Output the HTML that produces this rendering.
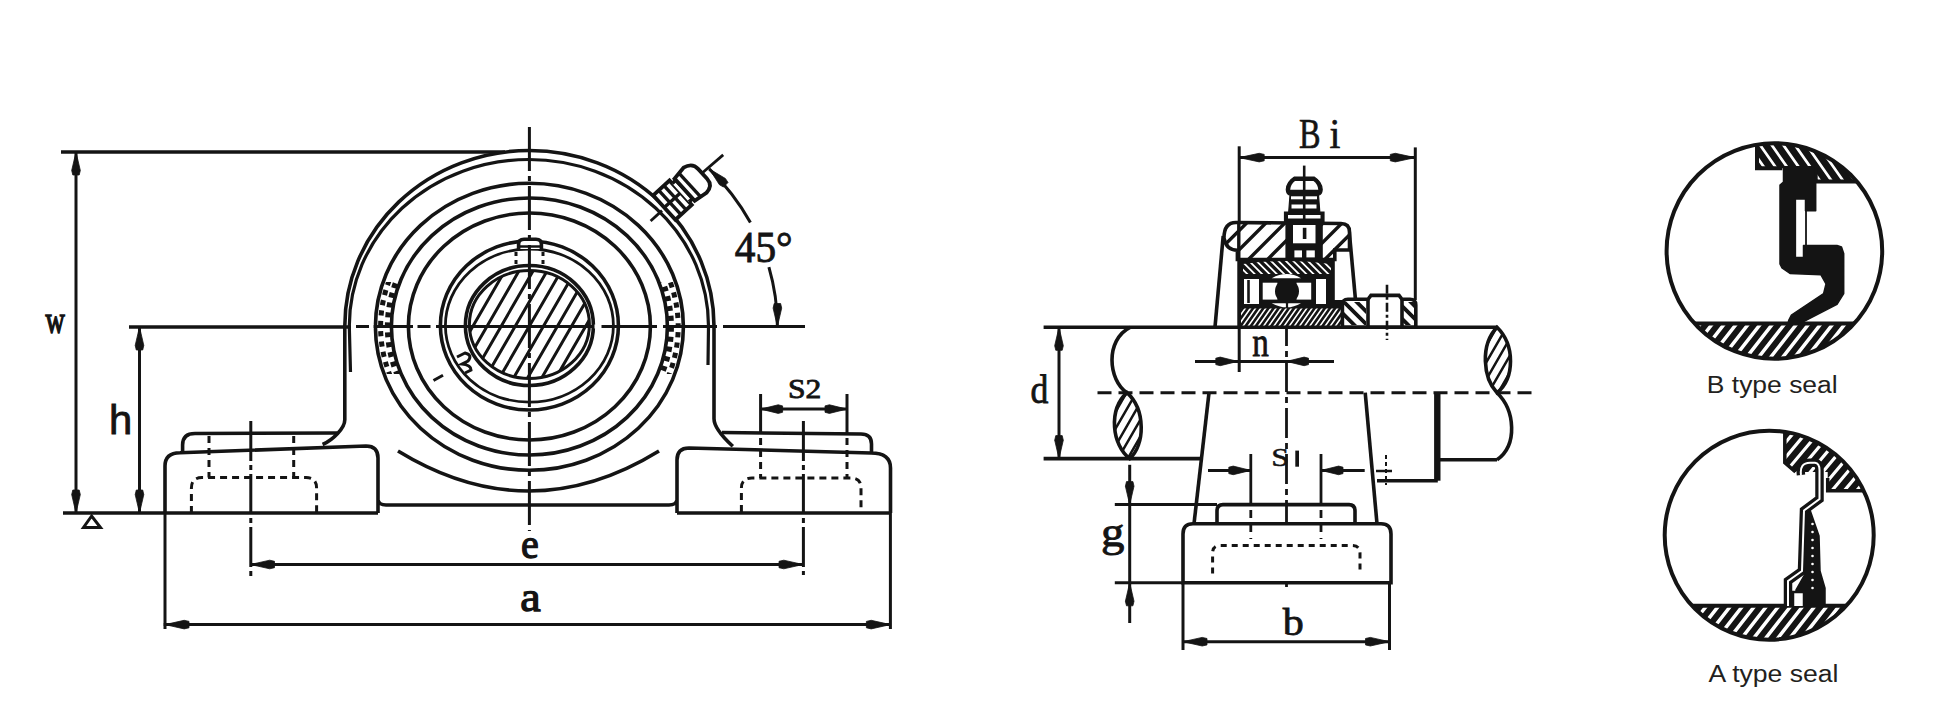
<!DOCTYPE html>
<html><head><meta charset="utf-8"><title>Pillow block bearing drawing</title>
<style>html,body{margin:0;padding:0;background:#fff;}svg{display:block;}</style></head>
<body><svg width="1949" height="709" viewBox="0 0 1949 709"><defs><clipPath id="ringclipL"><rect x="300" y="282" width="100" height="92"/></clipPath><clipPath id="ringclipR"><rect x="660" y="282" width="100" height="92"/></clipPath><clipPath id="shaftclip"><ellipse cx="529.4" cy="324.5" rx="60" ry="54"/></clipPath><clipPath id="brkL"><path d="M1127 392.7 C1108 410 1112 445 1129.7 458.6 C1145 445 1146 410 1127 392.7 Z"/></clipPath><clipPath id="brkR"><path d="M1497 327.3 C1480 345 1483 378 1497 392.7 C1515 378 1515 345 1497 327.3 Z"/></clipPath><clipPath id="capclip"><path d="M1224 238 Q1224 222.5 1236 222.5 L1341 223.5 Q1349.5 223.5 1349.5 232 L1349.5 250 L1334.8 250 L1334.8 259.5 L1237.4 259.5 L1237.4 250.3 Q1226 250 1224 238 Z"/></clipPath><clipPath id="bandclip"><path d="M1243 274 L1243 264 Q1287 258 1331 264 L1331 274 Z"/></clipPath><clipPath id="ringclip"><rect x="1241" y="308.6" width="101" height="17"/></clipPath><clipPath id="colclipL"><rect x="1344" y="302" width="22" height="23"/></clipPath><clipPath id="colclipR"><rect x="1403" y="302" width="11" height="23"/></clipPath><clipPath id="bcirc"><circle cx="1774.4" cy="251" r="107.8"/></clipPath><clipPath id="bbot"><path d="M1660 323.6 L1890 323.6 L1890 370 L1660 370 Z"/></clipPath><clipPath id="btopc"><path d="M1757 130 L1757 168.2 L1782.3 168.2 L1815.7 168.2 L1815.7 181.6 L1890 181.6 L1890 130 Z"/></clipPath><clipPath id="acirc"><circle cx="1769.2" cy="535.2" r="104.5"/></clipPath><clipPath id="abot"><path d="M1660 605.7 L1880 605.7 L1880 650 L1660 650 Z"/></clipPath><clipPath id="atopc"><path d="M1784.8 420 L1784.8 462.6 L1795.5 472 L1827.7 472 L1827.7 490.7 L1880 490.7 L1880 420 Z"/></clipPath></defs><rect width="1949" height="709" fill="#fff"/><line x1="61" y1="152" x2="505" y2="152" stroke="#141414" stroke-width="3.6" stroke-linecap="butt"/>
<line x1="76" y1="152" x2="76" y2="513" stroke="#141414" stroke-width="3.0" stroke-linecap="butt"/>
<polygon points="76,152 80.3,170.4 79.2,175 72.8,175 71.7,170.4" fill="#141414" stroke="#141414" stroke-width="0.8" stroke-linejoin="round"/>
<polygon points="76,513 71.7,494.6 72.8,490 79.2,490 80.3,494.6" fill="#141414" stroke="#141414" stroke-width="0.8" stroke-linejoin="round"/>
<text transform="translate(45.43,333.44) scale(0.2671,0.3863)" font-family="Liberation Serif" font-weight="normal" font-size="100" fill="#141414" stroke="#141414" stroke-width="4">w</text>
<line x1="129" y1="327" x2="351" y2="327" stroke="#141414" stroke-width="3.6" stroke-linecap="butt"/>
<line x1="139.5" y1="327" x2="139.5" y2="513" stroke="#141414" stroke-width="3.0" stroke-linecap="butt"/>
<polygon points="139.5,327 143.8,345.4 142.7,350 136.3,350 135.2,345.4" fill="#141414" stroke="#141414" stroke-width="0.8" stroke-linejoin="round"/>
<polygon points="139.5,513 135.2,494.6 136.3,490 142.7,490 143.8,494.6" fill="#141414" stroke="#141414" stroke-width="0.8" stroke-linejoin="round"/>
<text transform="translate(108.89,433.70) scale(0.4182,0.4122)" font-family="Liberation Sans" font-weight="normal" font-size="100" fill="#141414" stroke="#141414" stroke-width="2">h</text>
<line x1="63" y1="513" x2="378" y2="513" stroke="#141414" stroke-width="3.6" stroke-linecap="butt"/>
<line x1="677" y1="513" x2="890.5" y2="513" stroke="#141414" stroke-width="3.6" stroke-linecap="butt"/>
<polygon points="91.6,516 83.5,527.5 100.5,527.5" fill="none" stroke="#141414" stroke-width="3"/>
<path d="M165 513 L165 466 Q165 453 180 452.8 L366 446 Q378 446 378 458 L378 513 M378 500 Q379 505 386 505 L669 505 Q676 505 677 500 M677 513 L677 460 Q677 448 689 448 L871 453 Q890.5 453 890.5 468 L890.5 513" fill="none" stroke="#141414" stroke-width="3.6" />
<path d="M337 433 L195 433.5 Q182.6 433.5 182.6 445 L182.6 452.5" fill="none" stroke="#141414" stroke-width="3.6" />
<path d="M722 432.5 L861 434 Q871.5 434 871.5 444 L871.5 453" fill="none" stroke="#141414" stroke-width="3.6" />
<path d="M322.6 444.5 C333 440 344.8 428 344.8 419.7 L344.8 326 A184.6 175.5 0 0 1 714 326 L714 418.7 C714 428 726 440 732.8 446.3" fill="none" stroke="#141414" stroke-width="3.6" />
<path d="M350.5 372 L349.3 326 A179.5 166.5 0 0 1 708.5 326 L708 365" fill="none" stroke="#141414" stroke-width="3.2" />
<ellipse cx="529.4" cy="326.8" rx="154" ry="143.5" fill="none" stroke="#141414" stroke-width="3.6" />
<ellipse cx="529.4" cy="326.5" rx="138" ry="128.5" fill="none" stroke="#141414" stroke-width="3.6" />
<ellipse cx="529.4" cy="326.5" rx="121" ry="113.5" fill="none" stroke="#141414" stroke-width="3.6" />
<ellipse cx="529.4" cy="326.8" rx="141.8" ry="132.3" fill="none" stroke="#141414" stroke-width="5.5" stroke-dasharray="5 5" clip-path="url(#ringclipL)"/>
<ellipse cx="529.4" cy="326.8" rx="148.8" ry="138.8" fill="none" stroke="#141414" stroke-width="5" stroke-dasharray="5.2 5.2" stroke-dashoffset="5" clip-path="url(#ringclipL)"/>
<ellipse cx="529.4" cy="326.8" rx="141.8" ry="132.3" fill="none" stroke="#141414" stroke-width="5.5" stroke-dasharray="5 5" clip-path="url(#ringclipR)"/>
<ellipse cx="529.4" cy="326.8" rx="148.8" ry="138.8" fill="none" stroke="#141414" stroke-width="5" stroke-dasharray="5.2 5.2" stroke-dashoffset="5" clip-path="url(#ringclipR)"/>
<path d="M398 451 Q529 531 659 451" fill="none" stroke="#141414" stroke-width="3.6" />
<ellipse cx="529.4" cy="325.5" rx="89" ry="84.5" fill="none" stroke="#141414" stroke-width="3.6" />
<ellipse cx="529.4" cy="325.6" rx="84" ry="76.6" fill="none" stroke="#141414" stroke-width="2.8" />
<ellipse cx="529.4" cy="325.5" rx="64" ry="60" fill="none" stroke="#141414" stroke-width="3.6" />
<path d="M268.8 387.1L453.1 67.7M279.3 393.2L463.7 73.8M289.9 399.3L474.3 79.9M300.5 405.4L484.8 86M311 411.5L495.4 92.1M321.6 417.6L506 98.2M332.1 423.7L516.5 104.3M342.7 429.8L527.1 110.4M353.3 435.9L537.7 116.5M363.8 442L548.2 122.6M374.4 448.1L558.8 128.7M385 454.2L569.4 134.8M395.5 460.3L579.9 140.9M406.1 466.4L590.5 147M416.7 472.5L601.1 153.1M427.2 478.6L611.6 159.2M437.8 484.7L622.2 165.3M448.4 490.8L632.8 171.4M458.9 496.9L643.3 177.5M469.5 503L653.9 183.6M480.1 509.1L664.5 189.7M490.6 515.2L675 195.8M501.2 521.3L685.6 201.9M511.8 527.4L696.2 208M522.3 533.5L706.7 214.1M532.9 539.6L717.3 220.2M543.5 545.7L727.9 226.3M554 551.8L738.4 232.4M564.6 557.9L749 238.5M575.2 564L759.5 244.6M585.7 570.1L770.1 250.7M596.3 576.2L780.7 256.8M606.9 582.3L791.2 262.9" stroke="#141414" stroke-width="3.0" clip-path="url(#shaftclip)"/>
<ellipse cx="529.4" cy="324.5" rx="60" ry="54" fill="none" stroke="#141414" stroke-width="3.0" />
<path d="M518.6 249 L518.6 244 Q518.6 239.3 524 239.3 L536 239.3 Q541.4 239.3 541.4 244 L541.4 249" fill="#fff" stroke="#141414" stroke-width="3.6" />
<line x1="518.6" y1="246.5" x2="541.4" y2="246.5" stroke="#141414" stroke-width="2.5" stroke-linecap="butt"/>
<line x1="516" y1="252" x2="516" y2="266" stroke="#141414" stroke-width="3" stroke-dasharray="4 4" stroke-linecap="butt"/>
<line x1="543" y1="252" x2="543" y2="266" stroke="#141414" stroke-width="3" stroke-dasharray="4 4" stroke-linecap="butt"/>
<path d="M433.5 380.5 L443 375.2" fill="none" stroke="#141414" stroke-width="3" />
<path d="M457 357 L465 353 Q473 355 468 361 L462 364 Q471 365 471 370 L465 373" fill="none" stroke="#141414" stroke-width="3" />
<line x1="529.4" y1="127" x2="529.4" y2="531" stroke="#141414" stroke-width="3.0" stroke-dasharray="44 5 5 5" stroke-linecap="butt"/>
<line x1="351" y1="326.5" x2="805" y2="326.5" stroke="#141414" stroke-width="3.0" stroke-linecap="butt"/>
<line x1="351" y1="326.5" x2="356" y2="326.5" stroke="#fff" stroke-width="4" stroke-linecap="butt"/>
<line x1="369" y1="326.5" x2="373.5" y2="326.5" stroke="#fff" stroke-width="4" stroke-linecap="butt"/>
<line x1="413" y1="326.5" x2="417.5" y2="326.5" stroke="#fff" stroke-width="4" stroke-linecap="butt"/>
<line x1="430.5" y1="326.5" x2="436" y2="326.5" stroke="#fff" stroke-width="4" stroke-linecap="butt"/>
<line x1="594.5" y1="326.5" x2="601.5" y2="326.5" stroke="#fff" stroke-width="4" stroke-linecap="butt"/>
<line x1="657" y1="326.5" x2="663" y2="326.5" stroke="#fff" stroke-width="4" stroke-linecap="butt"/>
<line x1="717" y1="326.5" x2="723" y2="326.5" stroke="#fff" stroke-width="4" stroke-linecap="butt"/>
<line x1="250.8" y1="421" x2="250.8" y2="578.7" stroke="#141414" stroke-width="3.0" stroke-dasharray="40 4 5 4" stroke-linecap="butt"/>
<line x1="803.4" y1="421" x2="803.4" y2="575" stroke="#141414" stroke-width="3.0" stroke-dasharray="40 4 5 4" stroke-linecap="butt"/>
<path d="M191.4 513 L191.4 488 Q191.4 477.6 202 477.6 L306 477.6 Q316.6 477.6 316.6 488 L316.6 513" fill="none" stroke="#141414" stroke-width="3.0" stroke-dasharray="7 5"/>
<path d="M741.4 512 L741.4 488 Q741.4 478 752 478 L851 478 Q861 478 861 488 L861 512" fill="none" stroke="#141414" stroke-width="3.0" stroke-dasharray="7 5"/>
<line x1="209" y1="436" x2="209" y2="477.6" stroke="#141414" stroke-width="3" stroke-dasharray="7 5" stroke-linecap="butt"/>
<line x1="293.7" y1="436" x2="293.7" y2="477.6" stroke="#141414" stroke-width="3" stroke-dasharray="7 5" stroke-linecap="butt"/>
<line x1="760.6" y1="394" x2="760.6" y2="434" stroke="#141414" stroke-width="3.0" stroke-linecap="butt"/>
<line x1="847" y1="394" x2="847" y2="434" stroke="#141414" stroke-width="3.0" stroke-linecap="butt"/>
<line x1="760.6" y1="438" x2="760.6" y2="478" stroke="#141414" stroke-width="3" stroke-dasharray="7 5" stroke-linecap="butt"/>
<line x1="847" y1="438" x2="847" y2="478" stroke="#141414" stroke-width="3" stroke-dasharray="7 5" stroke-linecap="butt"/>
<line x1="760.6" y1="409.1" x2="847" y2="409.1" stroke="#141414" stroke-width="3.0" stroke-linecap="butt"/>
<polygon points="760.6,409.1 778.2,404.8 782.6,405.9 782.6,412.3 778.2,413.4" fill="#141414" stroke="#141414" stroke-width="0.8" stroke-linejoin="round"/>
<polygon points="847,409.1 829.4,413.4 825,412.3 825,405.9 829.4,404.8" fill="#141414" stroke="#141414" stroke-width="0.8" stroke-linejoin="round"/>
<text transform="translate(787.92,397.80) scale(0.3156,0.2657)" font-family="Liberation Serif" font-weight="normal" font-size="100" fill="#141414" stroke="#141414" stroke-width="3">S2</text>
<line x1="250.5" y1="564.5" x2="803" y2="564.5" stroke="#141414" stroke-width="3.0" stroke-linecap="butt"/>
<polygon points="250.5,564.5 269.7,560.2 274.5,561.3 274.5,567.7 269.7,568.8" fill="#141414" stroke="#141414" stroke-width="0.8" stroke-linejoin="round"/>
<polygon points="803,564.5 783.8,568.8 779,567.7 779,561.3 783.8,560.2" fill="#141414" stroke="#141414" stroke-width="0.8" stroke-linejoin="round"/>
<text transform="translate(521.00,557.55) scale(0.4000,0.4240)" font-family="Liberation Serif" font-weight="normal" font-size="100" fill="#141414" stroke="#141414" stroke-width="3">e</text>
<line x1="163.7" y1="624.6" x2="890.4" y2="624.6" stroke="#141414" stroke-width="3.0" stroke-linecap="butt"/>
<line x1="165" y1="513" x2="165" y2="629" stroke="#141414" stroke-width="3.0" stroke-linecap="butt"/>
<line x1="890.4" y1="513" x2="890.4" y2="629" stroke="#141414" stroke-width="3.0" stroke-linecap="butt"/>
<polygon points="165,624.6 184.2,620.3 189,621.4 189,627.8 184.2,628.9" fill="#141414" stroke="#141414" stroke-width="0.8" stroke-linejoin="round"/>
<polygon points="890.4,624.6 871.2,628.9 866.4,627.8 866.4,621.4 871.2,620.3" fill="#141414" stroke="#141414" stroke-width="0.8" stroke-linejoin="round"/>
<text transform="translate(520.28,610.55) scale(0.4605,0.4240)" font-family="Liberation Serif" font-weight="normal" font-size="100" fill="#141414" stroke="#141414" stroke-width="3">a</text>
<line x1="650.6" y1="221" x2="662" y2="210.6" stroke="#141414" stroke-width="2.8"/>
<line x1="701" y1="174" x2="723.2" y2="154.9" stroke="#141414" stroke-width="2.8"/>
<g transform="translate(662.5,208.5) rotate(-42.32)"><path d="M2 -16 L24 -16 L24 17 L2 17 Z" fill="#fff" stroke="#141414" stroke-width="3.8"/><line x1="9.5" y1="-16" x2="9.5" y2="17" stroke="#141414" stroke-width="3.4"/><line x1="16.5" y1="-16" x2="16.5" y2="17" stroke="#141414" stroke-width="3.4"/><line x1="2" y1="0.5" x2="24" y2="0.5" stroke="#141414" stroke-width="3.4"/><path d="M24 -12 L29 -12 L29 13 L24 13" fill="#fff" stroke="#141414" stroke-width="3.6"/><path d="M29 -14 L43 -16 Q53 -14 53 -5 L53 8 Q53 17 43 18 L29 16 Z" fill="#fff" stroke="#141414" stroke-width="3.8"/><line x1="36" y1="-14.5" x2="36" y2="16.5" stroke="#141414" stroke-width="3.4"/></g>
<path d="M709.2 168.8 A248 229 0 0 1 750.4 222.5" fill="none" stroke="#141414" stroke-width="3.0" />
<path d="M768.9 267.2 A248 229 0 0 1 777.4 326.5" fill="none" stroke="#141414" stroke-width="3.0" />
<polygon points="709.2,168.8 725.4,178.5 728,182.5 723.5,187.1 719.4,184.7" fill="#141414" stroke="#141414" stroke-width="0.8" stroke-linejoin="round"/>
<polygon points="777.4,326.5 773.1,308.1 774.2,303.5 780.6,303.5 781.7,308.1" fill="#141414" stroke="#141414" stroke-width="0.8" stroke-linejoin="round"/>
<text transform="translate(734.79,261.62) scale(0.4133,0.4391)" font-family="Liberation Serif" font-weight="normal" font-size="100" fill="#141414" stroke="#141414" stroke-width="2">45°</text>
<line x1="1239.2" y1="157.6" x2="1415.3" y2="157.6" stroke="#141414" stroke-width="3.0" stroke-linecap="butt"/>
<line x1="1239.2" y1="146.3" x2="1239.2" y2="372" stroke="#141414" stroke-width="3.0" stroke-linecap="butt"/>
<line x1="1415.3" y1="147.4" x2="1415.3" y2="300" stroke="#141414" stroke-width="3.0" stroke-linecap="butt"/>
<polygon points="1239.2,157.6 1259.2,153.3 1264.2,154.4 1264.2,160.8 1259.2,161.9" fill="#141414" stroke="#141414" stroke-width="0.8" stroke-linejoin="round"/>
<polygon points="1415.3,157.6 1395.3,161.9 1390.3,160.8 1390.3,154.4 1395.3,153.3" fill="#141414" stroke="#141414" stroke-width="0.8" stroke-linejoin="round"/>
<text transform="translate(1298.95,148.09) scale(0.3230,0.4119)" font-family="Liberation Serif" font-weight="normal" font-size="100" fill="#141414" stroke="#141414" stroke-width="1.5">B</text>
<text transform="translate(1329.61,148.08) scale(0.3923,0.4209)" font-family="Liberation Serif" font-weight="normal" font-size="100" fill="#141414" stroke="#141414" stroke-width="1.5">i</text>
<line x1="1043.6" y1="327.3" x2="1497" y2="327.3" stroke="#141414" stroke-width="3.6" stroke-linecap="butt"/>
<line x1="1043.6" y1="458.6" x2="1200" y2="458.6" stroke="#141414" stroke-width="3.6" stroke-linecap="butt"/>
<line x1="1440" y1="459.8" x2="1497" y2="459.8" stroke="#141414" stroke-width="3.6" stroke-linecap="butt"/>
<path d="M1130 327.3 C1105 340 1108 380 1127 392.7" fill="none" stroke="#141414" stroke-width="3.6" />
<path d="M1012.3 454.6L1095.5 310.4M1019.6 458.8L1102.9 314.7M1027 463.1L1110.2 318.9M1034.4 467.3L1117.6 323.2M1041.7 471.6L1124.9 327.4M1049.1 475.8L1132.3 331.7M1056.4 480.1L1139.7 335.9M1063.8 484.3L1147 340.2M1071.2 488.6L1154.4 344.4M1078.5 492.8L1161.7 348.7M1085.9 497.1L1169.1 352.9M1093.3 501.3L1176.5 357.2M1100.6 505.6L1183.8 361.4M1108 509.8L1191.2 365.7M1115.3 514.1L1198.6 369.9M1122.7 518.3L1205.9 374.2M1130.1 522.6L1213.3 378.4M1137.4 526.8L1220.6 382.7M1144.8 531.1L1228 386.9M1152.1 535.3L1235.4 391.2M1159.5 539.6L1242.7 395.4" stroke="#141414" stroke-width="2.5" clip-path="url(#brkL)"/>
<path d="M1127 392.7 C1108 410 1112 445 1129.7 458.6 C1145 445 1146 410 1127 392.7 Z" fill="none" stroke="#141414" stroke-width="3.6" />
<path d="M1382.3 389.6L1465.5 245.4M1389.6 393.8L1472.9 249.7M1397 398.1L1480.2 253.9M1404.4 402.3L1487.6 258.2M1411.7 406.6L1494.9 262.4M1419.1 410.8L1502.3 266.7M1426.4 415.1L1509.7 270.9M1433.8 419.3L1517 275.2M1441.2 423.6L1524.4 279.4M1448.5 427.8L1531.7 283.7M1455.9 432.1L1539.1 287.9M1463.3 436.3L1546.5 292.2M1470.6 440.6L1553.8 296.4M1478 444.8L1561.2 300.7M1485.3 449.1L1568.6 304.9M1492.7 453.3L1575.9 309.2M1500.1 457.6L1583.3 313.4M1507.4 461.8L1590.6 317.7M1514.8 466.1L1598 321.9M1522.1 470.3L1605.4 326.2M1529.5 474.6L1612.7 330.4" stroke="#141414" stroke-width="2.5" clip-path="url(#brkR)"/>
<path d="M1497 327.3 C1480 345 1483 378 1497 392.7 C1515 378 1515 345 1497 327.3 Z" fill="none" stroke="#141414" stroke-width="3.6" />
<path d="M1497 392.7 C1515 410 1518 445 1497 459.8" fill="none" stroke="#141414" stroke-width="3.6" />
<line x1="1097.5" y1="392.7" x2="1537.7" y2="392.7" stroke="#141414" stroke-width="3.0" stroke-dasharray="14 7" stroke-linecap="butt"/>
<line x1="1286.5" y1="270" x2="1286.5" y2="590.5" stroke="#141414" stroke-width="2.8" stroke-dasharray="30 5 6 5" stroke-linecap="butt"/>
<line x1="1059" y1="327.3" x2="1059" y2="458.6" stroke="#141414" stroke-width="3.0" stroke-linecap="butt"/>
<polygon points="1059,327.3 1063.3,345.7 1062.2,350.3 1055.8,350.3 1054.7,345.7" fill="#141414" stroke="#141414" stroke-width="0.8" stroke-linejoin="round"/>
<polygon points="1059,458.6 1054.7,440.2 1055.8,435.6 1062.2,435.6 1063.3,440.2" fill="#141414" stroke="#141414" stroke-width="0.8" stroke-linejoin="round"/>
<text transform="translate(1030.53,402.70) scale(0.3574,0.4000)" font-family="Liberation Serif" font-weight="normal" font-size="100" fill="#141414" stroke="#141414" stroke-width="2">d</text>
<line x1="1195" y1="361.4" x2="1334" y2="361.4" stroke="#141414" stroke-width="3.0" stroke-linecap="butt"/>
<polygon points="1237.8,361.4 1220.2,365.7 1215.8,364.6 1215.8,358.2 1220.2,357.1" fill="#141414" stroke="#141414" stroke-width="0.8" stroke-linejoin="round"/>
<polygon points="1286.5,361.4 1304.1,357.1 1308.5,358.2 1308.5,364.6 1304.1,365.7" fill="#141414" stroke="#141414" stroke-width="0.8" stroke-linejoin="round"/>
<text transform="translate(1252.37,356.27) scale(0.3312,0.4306)" font-family="Liberation Serif" font-weight="normal" font-size="100" fill="#141414" stroke="#141414" stroke-width="2">n</text>
<line x1="1209" y1="392.7" x2="1194" y2="523.8" stroke="#141414" stroke-width="3.6" stroke-linecap="butt"/>
<line x1="1365.2" y1="392.7" x2="1377" y2="523.8" stroke="#141414" stroke-width="3.6" stroke-linecap="butt"/>
<path d="M1183 582.8 L1183 534 Q1183 523.8 1193 523.8 L1381 523.8 Q1391 523.8 1391 534 L1391 582.8 Z" fill="#fff" stroke="#141414" stroke-width="3.6" />
<path d="M1217 523.8 L1217 511 Q1217 504.6 1223 504.6 L1349 504.6 Q1355 504.6 1355 511 L1355 523.8" fill="none" stroke="#141414" stroke-width="3.6" />
<line x1="1114.8" y1="504.6" x2="1217" y2="504.6" stroke="#141414" stroke-width="3.0" stroke-linecap="butt"/>
<line x1="1114.8" y1="582.8" x2="1183" y2="582.8" stroke="#141414" stroke-width="3.0" stroke-linecap="butt"/>
<path d="M1212.6 573.5 L1212.6 553 Q1212.6 545.5 1220 545.5 L1352 545.5 Q1360 545.5 1360 553 L1360 573.5" fill="none" stroke="#141414" stroke-width="3.0" stroke-dasharray="6 5"/>
<line x1="1250.8" y1="454" x2="1250.8" y2="505" stroke="#141414" stroke-width="2.8" stroke-linecap="butt"/>
<line x1="1321" y1="454" x2="1321" y2="505" stroke="#141414" stroke-width="2.8" stroke-linecap="butt"/>
<line x1="1250.8" y1="510" x2="1250.8" y2="539" stroke="#141414" stroke-width="2.8" stroke-dasharray="8 6" stroke-linecap="butt"/>
<line x1="1321" y1="510" x2="1321" y2="539" stroke="#141414" stroke-width="2.8" stroke-dasharray="8 6" stroke-linecap="butt"/>
<line x1="1208" y1="470.4" x2="1250.8" y2="470.4" stroke="#141414" stroke-width="3.0" stroke-linecap="butt"/>
<polygon points="1250.8,470.4 1233.2,474.7 1228.8,473.6 1228.8,467.2 1233.2,466.1" fill="#141414" stroke="#141414" stroke-width="0.8" stroke-linejoin="round"/>
<line x1="1321" y1="470.4" x2="1364.7" y2="470.4" stroke="#141414" stroke-width="3.0" stroke-linecap="butt"/>
<polygon points="1321,470.4 1338.6,466.1 1343,467.2 1343,473.6 1338.6,474.7" fill="#141414" stroke="#141414" stroke-width="0.8" stroke-linejoin="round"/>
<text transform="translate(1271.18,465.91) scale(0.3205,0.2623)" font-family="Liberation Serif" font-weight="normal" font-size="100" fill="#141414" stroke="#141414" stroke-width="2">S</text>
<path d="M1295.3 450.6 L1299 450.6 L1299 466.7 L1295.3 466.7 Z" fill="#141414" stroke="none" stroke-width="0" />
<line x1="1129.7" y1="464.8" x2="1129.7" y2="623" stroke="#141414" stroke-width="3.0" stroke-linecap="butt"/>
<polygon points="1129.7,504.6 1125.4,486.2 1126.5,481.6 1132.9,481.6 1134,486.2" fill="#141414" stroke="#141414" stroke-width="0.8" stroke-linejoin="round"/>
<polygon points="1129.7,582.8 1134,601.2 1132.9,605.8 1126.5,605.8 1125.4,601.2" fill="#141414" stroke="#141414" stroke-width="0.8" stroke-linejoin="round"/>
<text transform="translate(1100.99,545.71) scale(0.4696,0.4133)" font-family="Liberation Serif" font-weight="normal" font-size="100" fill="#141414" stroke="#141414" stroke-width="2">g</text>
<line x1="1183" y1="582.8" x2="1183" y2="650" stroke="#141414" stroke-width="3.0" stroke-linecap="butt"/>
<line x1="1389.5" y1="582.8" x2="1389.5" y2="650" stroke="#141414" stroke-width="3.0" stroke-linecap="butt"/>
<line x1="1183" y1="641.7" x2="1389.5" y2="641.7" stroke="#141414" stroke-width="3.0" stroke-linecap="butt"/>
<polygon points="1183,641.7 1202.2,637.4 1207,638.5 1207,644.9 1202.2,646" fill="#141414" stroke="#141414" stroke-width="0.8" stroke-linejoin="round"/>
<polygon points="1389.5,641.7 1370.3,646 1365.5,644.9 1365.5,638.5 1370.3,637.4" fill="#141414" stroke="#141414" stroke-width="0.8" stroke-linejoin="round"/>
<text transform="translate(1282.82,634.73) scale(0.4208,0.3875)" font-family="Liberation Serif" font-weight="normal" font-size="100" fill="#141414" stroke="#141414" stroke-width="2">b</text>
<path d="M1436 392.7 L1436 480.7 L1377 480.7" fill="none" stroke="#141414" stroke-width="3.6" />
<line x1="1437.5" y1="392.7" x2="1437.5" y2="480.7" stroke="#141414" stroke-width="6" stroke-linecap="butt"/>
<line x1="1376" y1="471" x2="1392" y2="471" stroke="#141414" stroke-width="2.5" stroke-linecap="butt"/>
<line x1="1386" y1="455" x2="1386" y2="485" stroke="#141414" stroke-width="2" stroke-dasharray="4 3" stroke-linecap="butt"/>
<line x1="1223.2" y1="236" x2="1215" y2="327" stroke="#141414" stroke-width="3.6" stroke-linecap="butt"/>
<line x1="1349.3" y1="232" x2="1355.5" y2="300" stroke="#141414" stroke-width="3.6" stroke-linecap="butt"/>
<path d="M1237.4 258 L1334.8 258 L1334.8 300 L1342.4 300 L1342.4 329 L1237.4 329 Z" fill="#141414" stroke="none" stroke-width="0" />
<path d="M1224 238 Q1224 222.5 1236 222.5 L1341 223.5 Q1349.5 223.5 1349.5 232 L1349.5 250 L1334.8 250 L1334.8 259.5 L1237.4 259.5 L1237.4 250.3 Q1226 250 1224 238 Z" fill="#fff" stroke="none" stroke-width="0" />
<path d="M1083 233.9L1278.9 38M1092.6 243.5L1288.5 47.6M1102.1 253L1298 57.1M1111.7 262.6L1307.6 66.7M1121.2 272.1L1317.1 76.2M1130.8 281.7L1326.7 85.8M1140.3 291.2L1336.2 95.3M1149.9 300.8L1345.8 104.9M1159.4 310.3L1355.3 114.4M1169 319.9L1364.9 124M1178.5 329.4L1374.4 133.5M1188.1 338.9L1383.9 143.1M1197.6 348.5L1393.5 152.6M1207.1 358L1403 162.1M1216.7 367.6L1412.6 171.7M1226.2 377.1L1422.1 181.2M1235.8 386.7L1431.7 190.8M1245.3 396.2L1441.2 200.3M1254.9 405.8L1450.8 209.9M1264.4 415.3L1460.3 219.4M1274 424.9L1469.9 229M1283.5 434.4L1479.4 238.5M1293.1 444L1489 248.1" stroke="#141414" stroke-width="3.4" clip-path="url(#capclip)"/>
<path d="M1224 238 Q1224 222.5 1236 222.5 L1341 223.5 Q1349.5 223.5 1349.5 232 L1349.5 250 L1334.8 250 L1334.8 259.5 L1237.4 259.5 L1237.4 250.3 Q1226 250 1224 238 Z" fill="none" stroke="#141414" stroke-width="3.6" />
<line x1="1238.8" y1="222" x2="1238.8" y2="260" stroke="#141414" stroke-width="3.4" stroke-linecap="butt"/>
<path d="M1285.4 222 L1322.8 222 L1322.8 259 L1285.4 259 Z" fill="#141414" stroke="none" stroke-width="0" />
<path d="M1293 225 L1315.5 225 L1315.5 243.3 L1293 243.3 Z" fill="#fff" stroke="none" stroke-width="0" />
<line x1="1304.6" y1="227.8" x2="1304.6" y2="239" stroke="#141414" stroke-width="3.6" stroke-linecap="butt"/>
<path d="M1294.4 250.4 L1302 250.4 L1302 257.4 L1294.4 257.4 Z" fill="#fff" stroke="none" stroke-width="0" />
<path d="M1306.4 250.4 L1314.8 250.4 L1314.8 257.4 L1306.4 257.4 Z" fill="#fff" stroke="none" stroke-width="0" />
<path d="M1285.3 407.6L1146.9 269.2M1289 403.9L1150.6 265.5M1292.7 400.2L1154.3 261.8M1296.4 396.5L1158 258.1M1300 392.9L1161.6 254.5M1303.7 389.2L1165.3 250.8M1307.4 385.5L1169 247.1M1311.1 381.8L1172.7 243.4M1314.8 378.1L1176.4 239.7M1318.4 374.5L1180 236.1M1322.1 370.8L1183.7 232.4M1325.8 367.1L1187.4 228.7M1329.5 363.4L1191.1 225M1333.1 359.8L1194.7 221.4M1336.8 356.1L1198.4 217.7M1340.5 352.4L1202.1 214M1344.2 348.7L1205.8 210.3M1347.8 345.1L1209.4 206.7M1351.5 341.4L1213.1 203M1355.2 337.7L1216.8 199.3M1358.9 334L1220.5 195.6M1362.6 330.3L1224.2 191.9M1366.2 326.7L1227.8 188.3M1369.9 323L1231.5 184.6M1373.6 319.3L1235.2 180.9M1377.3 315.6L1238.9 177.2M1380.9 312L1242.5 173.6M1384.6 308.3L1246.2 169.9M1388.3 304.6L1249.9 166.2M1392 300.9L1253.6 162.5M1395.6 297.3L1257.2 158.9M1399.3 293.6L1260.9 155.2M1403 289.9L1264.6 151.5M1406.7 286.2L1268.3 147.8M1410.4 282.5L1272 144.1M1414 278.9L1275.6 140.5M1417.7 275.2L1279.3 136.8M1421.4 271.5L1283 133.1M1425.1 267.8L1286.7 129.4" stroke="#fff" stroke-width="1.8" clip-path="url(#bandclip)"/>
<path d="M1244 279 L1259 279 L1259 304 L1244 304 Z" fill="#fff" stroke="none" stroke-width="0" />
<line x1="1248.5" y1="280" x2="1248.5" y2="303" stroke="#141414" stroke-width="2.6" stroke-linecap="butt"/>
<path d="M1316 279 L1326 279 L1326 304 L1316 304 Z" fill="#fff" stroke="none" stroke-width="0" />
<path d="M1271.7 278.2 Q1287 270 1301 278.2 Z" fill="#fff" stroke="none" stroke-width="0" />
<path d="M1271.7 303.2 Q1287 311.5 1301 303.2 Z" fill="#fff" stroke="none" stroke-width="0" />
<path d="M1262.7 282.7 L1277.4 282.7 L1277.4 299.6 L1262.7 299.6 Z" fill="#fff" stroke="none" stroke-width="0" />
<path d="M1296.5 282.7 L1311.2 282.7 L1311.2 299.6 L1296.5 299.6 Z" fill="#fff" stroke="none" stroke-width="0" />
<ellipse cx="1287" cy="291.3" rx="12" ry="12" fill="#141414" stroke="#141414" stroke-width="0" />
<line x1="1287" y1="303" x2="1287" y2="310" stroke="#141414" stroke-width="2.2" stroke-linecap="butt"/>
<path d="M1141.5 339.3L1262.6 166.4M1145 341.7L1266 168.8M1148.4 344.1L1269.5 171.2M1151.8 346.5L1272.9 173.6M1155.3 349L1276.3 176.1M1158.7 351.4L1279.8 178.5M1162.2 353.8L1283.2 180.9M1165.6 356.2L1286.7 183.3M1169 358.6L1290.1 185.7M1172.5 361L1293.5 188.1M1175.9 363.4L1297 190.5M1179.4 365.8L1300.4 192.9M1182.8 368.2L1303.9 195.3M1186.2 370.6L1307.3 197.7M1189.7 373L1310.7 200.1M1193.1 375.5L1314.2 202.6M1196.6 377.9L1317.6 205M1200 380.3L1321.1 207.4M1203.4 382.7L1324.5 209.8M1206.9 385.1L1328 212.2M1210.3 387.5L1331.4 214.6M1213.8 389.9L1334.8 217M1217.2 392.3L1338.3 219.4M1220.6 394.7L1341.7 221.8M1224.1 397.1L1345.2 224.2M1227.5 399.5L1348.6 226.6M1231 402L1352 229M1234.4 404.4L1355.5 231.5M1237.8 406.8L1358.9 233.9M1241.3 409.2L1362.4 236.3M1244.7 411.6L1365.8 238.7M1248.2 414L1369.2 241.1M1251.6 416.4L1372.7 243.5M1255 418.8L1376.1 245.9M1258.5 421.2L1379.6 248.3M1261.9 423.6L1383 250.7M1265.4 426L1386.4 253.1M1268.8 428.4L1389.9 255.5M1272.3 430.9L1393.3 258M1275.7 433.3L1396.8 260.4M1279.1 435.7L1400.2 262.8M1282.6 438.1L1403.6 265.2M1286 440.5L1407.1 267.6M1289.5 442.9L1410.5 270M1292.9 445.3L1414 272.4M1296.3 447.7L1417.4 274.8M1299.8 450.1L1420.8 277.2M1303.2 452.5L1424.3 279.6M1306.7 454.9L1427.7 282M1310.1 457.4L1431.2 284.5M1313.5 459.8L1434.6 286.9M1317 462.2L1438 289.3M1320.4 464.6L1441.5 291.7" stroke="#fff" stroke-width="1.6" clip-path="url(#ringclip)"/>
<path d="M1342.4 327 L1342.4 305 Q1342.4 299.3 1348 299.3 L1368 299.3 L1371 295.4 L1399 295.4 L1402 299.3 L1410 299.3 Q1415.8 299.3 1415.8 305 L1415.8 327 Z" fill="#fff" stroke="#141414" stroke-width="3.6" />
<path d="M1350.2 371.8L1296.2 317.8M1356.6 365.5L1302.5 311.4M1362.9 359.1L1308.9 305.1M1369.3 352.7L1315.3 298.7M1375.7 346.4L1321.6 292.3M1382 340L1328 286M1388.4 333.7L1334.3 279.6M1394.7 327.3L1340.7 273.3M1401.1 320.9L1347.1 266.9M1407.5 314.6L1353.4 260.5M1413.8 308.2L1359.8 254.2" stroke="#141414" stroke-width="3.8" clip-path="url(#colclipL)"/>
<path d="M1405.7 360.6L1361.4 316.3M1412 354.2L1367.8 310M1418.4 347.9L1374.1 303.6M1424.8 341.5L1380.5 297.2M1431.1 335.1L1386.9 290.9M1437.5 328.8L1393.2 284.5M1443.9 322.4L1399.6 278.1M1450.2 316L1406 271.8M1456.6 309.7L1412.3 265.4" stroke="#141414" stroke-width="3.8" clip-path="url(#colclipR)"/>
<line x1="1368" y1="299.3" x2="1368" y2="327" stroke="#141414" stroke-width="3.6" stroke-linecap="butt"/>
<line x1="1402" y1="299.3" x2="1402" y2="327" stroke="#141414" stroke-width="3.6" stroke-linecap="butt"/>
<line x1="1387" y1="284.7" x2="1387" y2="340" stroke="#141414" stroke-width="2.6" stroke-dasharray="9 3 3 3" stroke-linecap="butt"/>
<path d="M1294.4 177 L1314.1 177 Q1322 182 1322.2 189.6 Q1322 194 1318.5 195.3 L1319.8 212 L1324 212 L1324 222 L1284.5 222 L1284.5 212 L1288.7 212 L1290 195.3 Q1286.5 194 1286.3 189.6 Q1286.5 182 1294.4 177 Z" fill="#141414" stroke="#141414" stroke-width="1.2" />
<path d="M1295 181 L1313.5 181 Q1318 184.5 1318.3 189.8 L1290.2 189.8 Q1290.5 184.5 1295 181 Z" fill="#fff" stroke="none" stroke-width="0" />
<path d="M1291 196.3 L1317 196.3 L1317 199.3 L1291 199.3 Z" fill="#fff" stroke="none" stroke-width="0" />
<path d="M1291.5 204.5 L1316.5 204.5 L1316.5 208.5 L1291.5 208.5 Z" fill="#fff" stroke="none" stroke-width="0" />
<path d="M1288 215 L1320.5 215 L1320.5 218.6 L1288 218.6 Z" fill="#fff" stroke="none" stroke-width="0" />
<line x1="1304.2" y1="165.6" x2="1304.2" y2="220" stroke="#141414" stroke-width="2.6" stroke-linecap="butt"/>
<g clip-path="url(#bcirc)">
<path d="M1700 323.6 L1900 323.6 L1900 400 L1700 400 Z" fill="#fff" stroke="none" stroke-width="0" />
<path d="M1443.9 382L1731.8 13.5M1451.4 387.9L1739.3 19.4M1458.9 393.7L1746.8 25.2M1466.4 399.6L1754.2 31.1M1473.8 405.4L1761.7 36.9M1481.3 411.3L1769.2 42.8M1488.8 417.1L1776.7 48.6M1496.3 423L1784.2 54.5M1503.8 428.8L1791.7 60.3M1511.3 434.7L1799.2 66.2M1518.8 440.5L1806.7 72M1526.3 446.4L1814.1 77.9M1533.7 452.2L1821.6 83.7M1541.2 458.1L1829.1 89.6M1548.7 463.9L1836.6 95.4M1556.2 469.8L1844.1 101.3M1563.7 475.6L1851.6 107.1M1571.2 481.4L1859.1 113M1578.7 487.3L1866.5 118.8M1586.1 493.1L1874 124.7M1593.6 499L1881.5 130.5M1601.1 504.8L1889 136.4M1608.6 510.7L1896.5 142.2M1616.1 516.5L1904 148.1M1623.6 522.4L1911.5 153.9M1631.1 528.2L1918.9 159.8M1638.5 534.1L1926.4 165.6M1646 539.9L1933.9 171.5M1653.5 545.8L1941.4 177.3M1661 551.6L1948.9 183.2M1668.5 557.5L1956.4 189M1676 563.3L1963.9 194.9M1683.5 569.2L1971.3 200.7M1690.9 575L1978.8 206.6M1698.4 580.9L1986.3 212.4M1705.9 586.7L1993.8 218.2M1713.4 592.6L2001.3 224.1M1720.9 598.4L2008.8 229.9M1728.4 604.3L2016.3 235.8M1735.9 610.1L2023.7 241.6M1743.3 616L2031.2 247.5M1750.8 621.8L2038.7 253.3M1758.3 627.7L2046.2 259.2M1765.8 633.5L2053.7 265M1773.3 639.4L2061.2 270.9M1780.8 645.2L2068.7 276.7M1788.3 651.1L2076.2 282.6M1795.8 656.9L2083.6 288.4M1803.2 662.8L2091.1 294.3M1810.7 668.6L2098.6 300.1M1818.2 674.5L2106.1 306" stroke="#141414" stroke-width="6" clip-path="url(#bbot)"/>
<line x1="1660" y1="323.6" x2="1890" y2="323.6" stroke="#141414" stroke-width="4" stroke-linecap="butt"/>
<path d="M1781.1 365.5L1609.8 120.8M1788.9 360.1L1617.6 115.4M1796.7 354.6L1625.4 109.9M1804.5 349.2L1633.2 104.5M1812.3 343.7L1641 99.1M1820.1 338.3L1648.7 93.6M1827.8 332.8L1656.5 88.2M1835.6 327.4L1664.3 82.7M1843.4 321.9L1672.1 77.3M1851.2 316.5L1679.9 71.8M1859 311L1687.6 66.4M1866.8 305.6L1695.4 60.9M1874.5 300.1L1703.2 55.5M1882.3 294.7L1711 50M1890.1 289.2L1718.8 44.6M1897.9 283.8L1726.6 39.1M1905.7 278.3L1734.3 33.7M1913.4 272.9L1742.1 28.2M1921.2 267.4L1749.9 22.8M1929 262L1757.7 17.3M1936.8 256.5L1765.5 11.9M1944.6 251.1L1773.2 6.4M1952.4 245.6L1781 1M1960.1 240.2L1788.8 -4.5M1967.9 234.7L1796.6 -9.9M1975.7 229.3L1804.4 -15.4M1983.5 223.8L1812.2 -20.8M1991.3 218.4L1819.9 -26.3M1999 212.9L1827.7 -31.7M2006.8 207.5L1835.5 -37.2M2014.6 202.1L1843.3 -42.6M2022.4 196.6L1851.1 -48.1M2030.2 191.2L1858.9 -53.5" stroke="#141414" stroke-width="6.8" clip-path="url(#btopc)"/>
<path d="M1757 130 L1757 168.2 L1782.3 168.2 M1815.7 168.2 L1815.7 181.6 L1890 181.6" fill="none" stroke="#141414" stroke-width="4" />
</g>
<circle cx="1774.4" cy="251" r="107.8" fill="none" stroke="#141414" stroke-width="4"/>
<line x1="1806" y1="210.8" x2="1806" y2="245.4" stroke="#141414" stroke-width="1.8" stroke-linecap="butt"/>
<polygon points="1783.5,166.8 1815.7,166.8 1815.7,210.8 1805.5,210.8 1805.5,199 1795.4,199 1795.4,257.4 1803.5,257.4 1803.5,245.4 1837,245.4 1841.5,247 1843.7,253.4 1843.7,293.6 1837,304.3 1806,320.4 1800,323.5 1788,323.5 1788.7,320.4 1791.4,315 1823.6,293.6 1826,284 1821,274.8 1790,273.5 1782,268 1780,264 1780,185 1783.5,182" fill="#141414" stroke="#141414" stroke-width="1.5" stroke-linejoin="round"/>
<text transform="translate(1706.78,392.63) scale(0.2646,0.2415)" font-family="Liberation Sans" font-weight="normal" font-size="100" fill="#231f20" stroke="#231f20" stroke-width="0">B type seal</text>
<g clip-path="url(#acirc)">
<path d="M1452.7 660.8L1728 308.4M1460.2 666.7L1735.5 314.3M1467.6 672.5L1743 320.1M1475.1 678.4L1750.5 326M1482.6 684.2L1757.9 331.8M1490.1 690.1L1765.4 337.7M1497.6 695.9L1772.9 343.5M1505.1 701.8L1780.4 349.4M1512.6 707.6L1787.9 355.2M1520 713.5L1795.4 361.1M1527.5 719.3L1802.9 366.9M1535 725.2L1810.3 372.8M1542.5 731L1817.8 378.6M1550 736.9L1825.3 384.5M1557.5 742.7L1832.8 390.3M1565 748.6L1840.3 396.2M1572.4 754.4L1847.8 402M1579.9 760.3L1855.3 407.9M1587.4 766.1L1862.7 413.7M1594.9 772L1870.2 419.6M1602.4 777.8L1877.7 425.4M1609.9 783.7L1885.2 431.2M1617.4 789.5L1892.7 437.1M1624.8 795.4L1900.2 442.9M1632.3 801.2L1907.7 448.8M1639.8 807.1L1915.2 454.6M1647.3 812.9L1922.6 460.5M1654.8 818.8L1930.1 466.3M1662.3 824.6L1937.6 472.2M1669.8 830.4L1945.1 478M1677.3 836.3L1952.6 483.9M1684.7 842.1L1960.1 489.7M1692.2 848L1967.6 495.6M1699.7 853.8L1975 501.4M1707.2 859.7L1982.5 507.3M1714.7 865.5L1990 513.1M1722.2 871.4L1997.5 519M1729.7 877.2L2005 524.8M1737.1 883.1L2012.5 530.7M1744.6 888.9L2020 536.5M1752.1 894.8L2027.4 542.4M1759.6 900.6L2034.9 548.2M1767.1 906.5L2042.4 554.1M1774.6 912.3L2049.9 559.9M1782.1 918.2L2057.4 565.8M1789.5 924L2064.9 571.6M1797 929.9L2072.4 577.5M1804.5 935.7L2079.8 583.3M1812 941.6L2087.3 589.2" stroke="#141414" stroke-width="6" clip-path="url(#abot)"/>
<line x1="1660" y1="605.7" x2="1880" y2="605.7" stroke="#141414" stroke-width="4" stroke-linecap="butt"/>
<path d="M1656.2 471L1814.6 282.2M1663.5 477.1L1821.9 288.3M1670.7 483.2L1829.2 294.4M1678 489.3L1836.4 300.5M1685.3 495.4L1843.7 306.6M1692.6 501.5L1851 312.8M1699.9 507.6L1858.3 318.9M1707.1 513.8L1865.5 325M1714.4 519.9L1872.8 331.1M1721.7 526L1880.1 337.2M1729 532.1L1887.4 343.3M1736.2 538.2L1894.7 349.4M1743.5 544.3L1901.9 355.5M1750.8 550.4L1909.2 361.6M1758.1 556.5L1916.5 367.7M1765.3 562.6L1923.8 373.8M1772.6 568.7L1931 379.9M1779.9 574.8L1938.3 386M1787.2 580.9L1945.6 392.1M1794.5 587L1952.9 398.2M1801.7 593.1L1960.1 404.4M1809 599.2L1967.4 410.5M1816.3 605.4L1974.7 416.6M1823.6 611.5L1982 422.7M1830.8 617.6L1989.3 428.8M1838.1 623.7L1996.5 434.9M1845.4 629.8L2003.8 441" stroke="#141414" stroke-width="6.3" clip-path="url(#atopc)"/>
<path d="M1784.8 420 L1784.8 462.6 L1795.5 472 M1827.7 478 L1827.7 490.7 L1880 490.7" fill="none" stroke="#141414" stroke-width="3.5" />
</g>
<circle cx="1769.2" cy="535.2" r="104.5" fill="none" stroke="#141414" stroke-width="4"/>
<text transform="translate(1708.50,681.81) scale(0.2660,0.2426)" font-family="Liberation Sans" font-weight="normal" font-size="100" fill="#231f20" stroke="#231f20" stroke-width="0">A type seal</text>
<path d="M1801 475 Q1799.4 463 1810 462.8 L1815 462.8 Q1819.5 463.5 1819.5 470 L1819.5 499 L1804 510.5 L1802 571 L1788 581 L1788 606" fill="none" stroke="#141414" stroke-width="8.5" />
<path d="M1801 475 Q1799.4 463 1810 462.8 L1815 462.8 Q1819.5 463.5 1819.5 470 L1819.5 499 L1804 510.5 L1802 571 L1788 581 L1788 606" fill="none" stroke="#fff" stroke-width="2.0"/>
<path d="M1806.4 517 L1810 510 L1819 536 L1820 571 L1825 588 L1825 606 L1796 606 L1796 590 L1805 574 Z" fill="#141414" stroke="#141414" stroke-width="1.5" />
<circle cx="1812.5" cy="524" r="1.3" fill="#fff"/>
<circle cx="1812.5" cy="532" r="1.3" fill="#fff"/>
<circle cx="1812.5" cy="540" r="1.3" fill="#fff"/>
<circle cx="1812.5" cy="548" r="1.3" fill="#fff"/>
<circle cx="1812.5" cy="556" r="1.3" fill="#fff"/>
<circle cx="1812.5" cy="564" r="1.3" fill="#fff"/>
<circle cx="1812.5" cy="572" r="1.3" fill="#fff"/>
<circle cx="1812.5" cy="580" r="1.3" fill="#fff"/>
<circle cx="1812.5" cy="588" r="1.3" fill="#fff"/>
<path d="M1793 606 L1793 592 L1804 592 L1804 606" fill="#fff" stroke="#141414" stroke-width="2.5" /></svg></body></html>
